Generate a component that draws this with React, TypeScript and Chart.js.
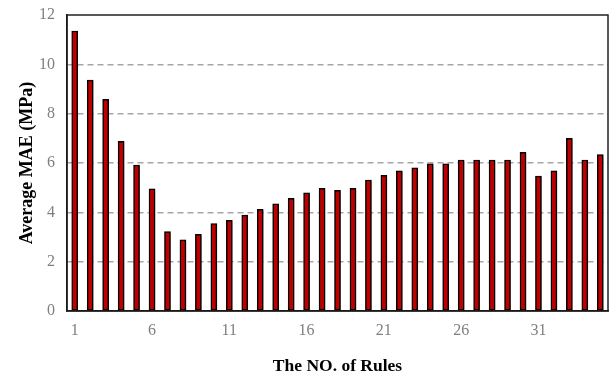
import React, { useEffect, useRef } from "react";
import { Chart, registerables } from "chart.js";

Chart.register(...registerables);

// Number of rules (1..35)
const ruleCounts: string[] = [
  "1", "2", "3", "4", "5", "6", "7", "8", "9", "10",
  "11", "12", "13", "14", "15", "16", "17", "18", "19", "20",
  "21", "22", "23", "24", "25", "26", "27", "28", "29", "30",
  "31", "32", "33", "34", "35",
];

// Average MAE (MPa) for each rule count
const averageMAE: number[] = [
  11.35, 9.36, 8.58, 6.88, 5.92, 4.95, 3.22, 2.89, 3.11, 3.54,
  3.68, 3.89, 4.12, 4.34, 4.57, 4.79, 4.97, 4.89, 4.97, 5.31,
  5.5, 5.68, 5.8, 5.97, 5.97, 6.12, 6.12, 6.12, 6.12, 6.43,
  5.47, 5.68, 7.0, 6.12, 6.34,
];

const yTicks: number[] = [0, 2, 4, 6, 8, 10, 12];

const SERIF = "'Liberation Serif', 'Times New Roman', serif";

// Soft drop shadow under the bars
const barShadow = {
  id: "barShadow",
  beforeDatasetsDraw(chart: any) {
    const ctx = chart.ctx;
    ctx.save();
    ctx.shadowColor = "rgba(0,0,0,0.35)";
    ctx.shadowBlur = 3;
    ctx.shadowOffsetX = 2;
    ctx.shadowOffsetY = 1;
  },
  afterDatasetsDraw(chart: any) {
    chart.ctx.restore();
  },
};

// Frame around the plot area
const plotFrame = {
  id: "plotFrame",
  afterDraw(chart: any) {
    const { ctx, chartArea } = chart;
    ctx.save();
    ctx.strokeStyle = "#222";
    ctx.lineWidth = 1.5;
    ctx.strokeRect(
      chartArea.left,
      chartArea.top,
      chartArea.right - chartArea.left,
      chartArea.bottom - chartArea.top
    );
    ctx.restore();
  },
};

export default function App() {
  const canvasRef = useRef<HTMLCanvasElement | null>(null);

  useEffect(() => {
    if (!canvasRef.current) return;
    const chart = new Chart(canvasRef.current, {
      type: "bar",
      data: {
        labels: ruleCounts,
        datasets: [
          {
            data: averageMAE,
            backgroundColor: "#C00000",
            borderColor: "#000000",
            borderWidth: 1.5,
            barThickness: 6,
            borderSkipped: false,
          },
        ],
      },
      plugins: [barShadow, plotFrame],
      options: {
        animation: false,
        responsive: false,
        maintainAspectRatio: false,
        layout: { padding: { top: 15, right: 3, left: 0, bottom: 0 } },
        plugins: {
          legend: { display: false },
          tooltip: { enabled: false },
        },
        scales: {
          x: {
            afterFit(scale: any) {
              scale.height = 67;
              scale.paddingLeft = 0;
              scale.paddingRight = 0;
            },
            grid: { display: false, drawTicks: false },
            border: { display: true, color: "#000", width: 1.5 },
            ticks: {
              autoSkip: false,
              maxRotation: 0,
              padding: 10,
              color: "#7f7f7f",
              font: { family: SERIF, size: 16 },
              callback(_v: any, i: number) {
                return i % 5 === 0 ? ruleCounts[i] : "";
              },
            },
            title: {
              display: true,
              text: "The NO. of Rules",
              color: "#000",
              font: { family: SERIF, size: 17.5, weight: "bold" },
              padding: { top: 0, bottom: 1.5 },
            },
          },
          y: {
            min: 0,
            max: 12,
            afterFit(scale: any) {
              scale.width = 67;
              scale.paddingTop = 0;
              scale.paddingBottom = 0;
            },
            afterBuildTicks(scale: any) {
              scale.ticks = yTicks.map((v) => ({ value: v }));
            },
            grid: {
              drawTicks: false,
              color: (c: any) =>
                c.tick && (c.tick.value === 0 || c.tick.value === 12)
                  ? "rgba(0,0,0,0)"
                  : "#a6a6a6",
              lineWidth: 1.5,
            },
            border: { display: true, color: "#000", width: 1.5, dash: [6, 4] },
            ticks: {
              padding: 12,
              color: "#7f7f7f",
              font: { family: SERIF, size: 16 },
            },
            title: {
              display: true,
              text: "Average MAE (MPa)",
              color: "#000",
              font: { family: SERIF, size: 18, weight: "bold" },
              padding: { top: 16.5, bottom: 0 },
            },
          },
        },
      },
    } as any);
    return () => chart.destroy();
  }, []);

  return (
    <div style={{ position: "fixed", left: 0, top: 0, width: 611, height: 378, background: "#fff" }}>
      <canvas ref={canvasRef} width={611} height={378} style={{ display: "block" }} />
    </div>
  );
}
